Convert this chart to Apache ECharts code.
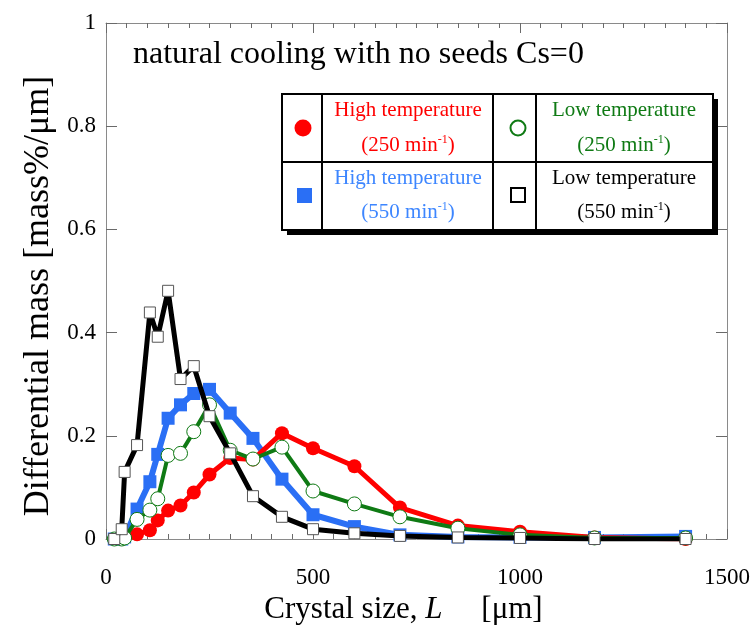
<!DOCTYPE html>
<html>
<head>
<meta charset="utf-8">
<script src="https://cdn.jsdelivr.net/npm/echarts@6/dist/echarts.min.js"></script>
<style>
  html, body { margin: 0; padding: 0; background: #fff; }
  #chart { width: 756px; height: 633px; }
</style>
</head>
<body>
<div id="chart"></div>
<script>
// sieve sizes [um]
var sizes = [20, 38, 45, 75, 106, 125, 150, 180, 212, 250, 300, 355, 425, 500, 600, 710, 850, 1000, 1180, 1400];

// differential mass [mass%/um], null = no point
var highT250 = [null, null, null, 0.009, 0.017, 0.036, 0.055, 0.065, 0.09, 0.125, 0.157, 0.154, 0.205, 0.176, 0.141, 0.061, 0.026, 0.014, 0.003, 0];
var lowT250 = [0, 0, 0.002, 0.038, 0.056, 0.078, 0.162, 0.166, 0.208, 0.26, 0.172, 0.155, 0.178, 0.093, 0.068, 0.043, 0.021, 0.008, 0.002, 0.002];
var highT550 = [0, 0, 0.004, 0.058, 0.111, 0.164, 0.234, 0.26, 0.282, 0.29, 0.244, 0.195, 0.116, 0.047, 0.024, 0.008, 0.004, 0.003, 0.003, 0.005];
var lowT550 = [0, 0.019, 0.13, 0.182, 0.439, 0.392, 0.481, 0.31, 0.335, 0.238, 0.166, 0.083, 0.043, 0.019, 0.011, 0.006, 0.003, 0.002, 0, 0];

var xTicks = [0, 500, 1000, 1500];
var yTicks = [0, 0.2, 0.4, 0.6, 0.8, 1];

var serif = "'Liberation Serif', 'DejaVu Serif', serif";
var RED = "#ff0000", GREEN = "#0f7a14", BLUE = "#2a6ff5", BLUE_TXT = "#3d86ff";

function pairs(vals) {
  var out = [];
  for (var i = 0; i < sizes.length; i++) {
    if (vals[i] !== null) out.push([sizes[i], vals[i]]);
  }
  return out;
}

function xAxisCfg(pos, showLabel) {
  return {
    type: "value",
    position: pos,
    min: xTicks[0],
    max: xTicks[xTicks.length - 1],
    interval: xTicks[1] - xTicks[0],
    axisLine: { show: true, onZero: false, lineStyle: { color: "#8a8a8a", width: 1 } },
    axisTick: { show: true, inside: true, length: 10, lineStyle: { color: "#6a6a6a" } },
    minorTick: { show: true, splitNumber: 10, length: 5, lineStyle: { color: "#6a6a6a" } },
    splitLine: { show: false },
    axisLabel: {
      show: showLabel,
      margin: 27,
      color: "#000",
      fontFamily: serif,
      fontSize: 23,
      formatter: function (v) { return String(v); },
    },
  };
}

function yAxisCfg(pos, showLabel) {
  return {
    type: "value",
    position: pos,
    min: yTicks[0],
    max: yTicks[yTicks.length - 1],
    interval: 0.2,
    axisLine: { show: true, onZero: false, lineStyle: { color: "#8a8a8a", width: 1 } },
    axisTick: { show: true, inside: true, length: 11, lineStyle: { color: "#6a6a6a" } },
    splitLine: { show: false },
    axisLabel: {
      show: showLabel,
      margin: 10,
      color: "#000",
      fontFamily: serif,
      fontSize: 23,
      formatter: function (v) { return String(v); },
    },
  };
}

var xBottom = xAxisCfg("bottom", true);
xBottom.name = "Crystal size, {i|L}     [\u03bcm]";
xBottom.nameLocation = "middle";
xBottom.nameGap = 53;
xBottom.nameTextStyle = {
  color: "#000",
  fontFamily: serif,
  fontSize: 31,
  padding: [0, 26, 0, 0],
  rich: { i: { fontFamily: serif, fontSize: 31, fontStyle: "italic", color: "#000" } },
};

var yLeft = yAxisCfg("left", true);
yLeft.name = "Differential mass [mass%/\u03bcm]";
yLeft.nameLocation = "middle";
yLeft.nameGap = 49;
yLeft.nameTextStyle = { color: "#000", fontFamily: serif, fontSize: 36, padding: [0, 30, 0, 0] };

// legend table (2 x 2 cells with drop shadow)
var box = { x: 282, y: 94, w: 431, h: 136 };
var colA = 322, colB = 493, colC = 536, rowM = 162;

function cellText(x, y, str, color) {
  return {
    type: "text",
    x: x,
    y: y,
    z: 20,
    style: {
      text: str,
      fill: color,
      font: "21px " + serif,
      align: "center",
      verticalAlign: "middle",
      rich: {
        sup: { fontSize: 12, fill: color, fontFamily: serif, verticalAlign: "top", padding: [0, 0, 10, 0] },
      },
    },
  };
}

var border = { stroke: "#000", lineWidth: 2 };
var graphics = [
  {
    type: "text",
    x: 133,
    y: 55,
    style: { text: "natural cooling with no seeds Cs=0", fill: "#000", font: "32px " + serif, verticalAlign: "middle" },
  },
  { type: "rect", z: 18, shape: { x: box.x + 5, y: box.y + 5, width: box.w, height: box.h }, style: { fill: "#000" } },
  { type: "rect", z: 19, shape: { x: box.x, y: box.y, width: box.w, height: box.h }, style: { fill: "#fff", stroke: "#000", lineWidth: 2 } },
  { type: "line", z: 20, shape: { x1: colA, y1: box.y, x2: colA, y2: box.y + box.h }, style: border },
  { type: "line", z: 20, shape: { x1: colB, y1: box.y, x2: colB, y2: box.y + box.h }, style: border },
  { type: "line", z: 20, shape: { x1: colC, y1: box.y, x2: colC, y2: box.y + box.h }, style: border },
  { type: "line", z: 20, shape: { x1: box.x, y1: rowM, x2: box.x + box.w, y2: rowM }, style: border },
  { type: "circle", z: 20, shape: { cx: 303, cy: 128, r: 8.5 }, style: { fill: RED } },
  { type: "circle", z: 20, shape: { cx: 518, cy: 128, r: 7.5 }, style: { fill: "#fff", stroke: GREEN, lineWidth: 2 } },
  { type: "rect", z: 20, shape: { x: 297, y: 188, width: 15, height: 15 }, style: { fill: BLUE } },
  { type: "rect", z: 20, shape: { x: 511, y: 188, width: 14, height: 14 }, style: { fill: "#fff", stroke: "#000", lineWidth: 2 } },
  cellText(408, 110, "High temperature", RED),
  cellText(408, 145, "(250 min{sup|-1})", RED),
  cellText(624, 110, "Low temperature", GREEN),
  cellText(624, 145, "(250 min{sup|-1})", GREEN),
  cellText(408, 178, "High temperature", BLUE_TXT),
  cellText(408, 212, "(550 min{sup|-1})", BLUE_TXT),
  cellText(624, 178, "Low temperature", "#000"),
  cellText(624, 212, "(550 min{sup|-1})", "#000"),
];

var chart = echarts.init(document.getElementById("chart"));
chart.setOption({
  animation: false,
  backgroundColor: "#fff",
  grid: { left: 106, right: 29, top: 23, bottom: 94, containLabel: false },
  xAxis: [xBottom, xAxisCfg("top", false)],
  yAxis: [yLeft, yAxisCfg("right", false)],
  graphic: graphics,
  series: [
    {
      name: "High temperature (550)",
      type: "line",
      z: 2,
      data: pairs(highT550),
      symbol: "rect",
      symbolSize: 13,
      showAllSymbol: true,
      lineStyle: { color: BLUE, width: 6 },
      itemStyle: { color: BLUE },
    },
    {
      name: "High temperature (250)",
      type: "line",
      z: 3,
      data: pairs(highT250),
      symbol: "circle",
      symbolSize: 14,
      showAllSymbol: true,
      lineStyle: { color: RED, width: 5 },
      itemStyle: { color: RED },
    },
    {
      name: "Low temperature (250)",
      type: "line",
      z: 4,
      data: pairs(lowT250),
      symbol: "circle",
      symbolSize: 14,
      showAllSymbol: true,
      lineStyle: { color: GREEN, width: 4 },
      itemStyle: { color: "#fff", borderColor: GREEN, borderWidth: 1 },
    },
    {
      name: "Low temperature (550)",
      type: "line",
      z: 5,
      data: pairs(lowT550),
      symbol: "rect",
      symbolSize: 11,
      showAllSymbol: true,
      lineStyle: { color: "#000", width: 5 },
      itemStyle: { color: "#fff", borderColor: "#555", borderWidth: 1 },
    },
  ],
});
</script>
</body>
</html>
